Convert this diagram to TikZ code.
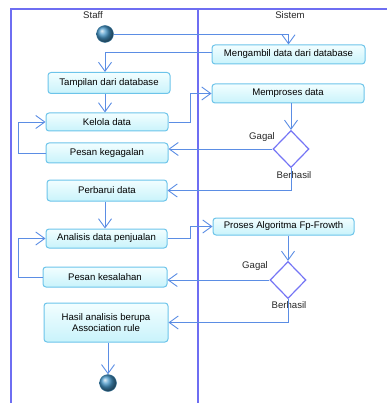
\documentclass[tikz,border=0pt]{standalone}
\usepackage{fontspec}
\setmainfont{Liberation Sans}
\usetikzlibrary{arrows.meta,shapes.geometric,calc}
\definecolor{frameblue}{HTML}{6E6EF2}
\definecolor{linkblue}{HTML}{5B8DE4}
\definecolor{boxborder}{HTML}{6CC4EA}
\definecolor{boxtop}{HTML}{F2FEFF}
\definecolor{boxbot}{HTML}{C9F3FB}
\definecolor{decblue}{HTML}{7575F5}
\definecolor{ballblue}{HTML}{4596C8}
\begin{document}
\begin{tikzpicture}[x=1pt,y=-1pt,
  font=\fontsize{9.6}{11}\selectfont,
  actbox/.style={draw=boxborder, line width=1pt, rounded corners=3pt, top color=boxtop, bottom color=boxbot, inner sep=0pt, align=center},
  decnode/.style={draw=decblue, line width=1.2pt, fill=white, diamond, minimum width=36pt, minimum height=37pt, inner sep=0pt},
  ballnode/.style={circle, ball color=ballblue, draw=ballblue!75!black, line width=0.4pt, minimum size=17pt, inner sep=0pt},
  flow/.style={draw=linkblue, line width=0.9pt, -{Straight Barb[length=9pt,width=13pt]}},
  frame/.style={draw=frameblue, line width=1.4pt},
  lbl/.style={inner sep=0pt, text=black!85}
]
\useasboundingbox (0,0) rectangle (387,403);
% frame and lanes
\draw[frame] (11,403) -- (11,9) -- (387,9);
\draw[frame] (198,9) -- (198,403);
\node[lbl] (staff) at (93,15) {Staff};
\node[lbl] (sistem) at (290,15) {Sistem};

% nodes
\node[ballnode] (init) at (105,34) {};
\node[actbox, minimum width=153pt, minimum height=19pt] (mengambil) at (288.5,54.5) {Mengambil data dari database};
\node[actbox, minimum width=122pt, minimum height=21pt] (tampilan) at (109,83) {Tampilan dari database};
\node[actbox, minimum width=122pt, minimum height=18pt] (kelola) at (107,122) {Kelola data};
\node[actbox, minimum width=152pt, minimum height=19pt] (memproses) at (288,93.5) {Memproses data};
\node[decnode] (d1) at (291,149) {};
\node[actbox, minimum width=122pt, minimum height=20pt] (kegagalan) at (107,153) {Pesan kegagalan};
\node[actbox, minimum width=120pt, minimum height=21pt] (perbarui) at (107,190.5) {Perbarui data};
\node[actbox, minimum width=121pt, minimum height=19pt] (analisis) at (106.5,238.5) {Analisis data penjualan};
\node[actbox, minimum width=141pt, minimum height=17pt] (proses) at (283.5,226.5) {Proses Algoritma Fp-Frowth};
\node[decnode] (d2) at (288,280) {};
\node[actbox, minimum width=124pt, minimum height=20pt] (kesalahan) at (105,277) {Pesan kesalahan};
\node[actbox, minimum width=124pt, minimum height=39pt] (hasil) at (106,322.5) {Hasil analisis berupa\\Association rule};
\node[ballnode] (final) at (108,383) {};

% labels
\node[lbl] (g1) at (262,137) {Gagal};
\node[lbl] (b1) at (294,175) {Berhasil};
\node[lbl] (g2) at (255,266) {Gagal};
\node[lbl] (b2) at (289,305) {Berhasil};

% connectors
\draw[flow] (init.east) -| (mengambil.north);
\draw[flow] ([yshift=2pt]mengambil.west) -| (init |- tampilan.north);
\draw[flow] (init |- tampilan.south) -- (init |- kelola.north);
\draw[flow] (kelola.east) -- ++(22,0) |- (memproses.west);
\draw[flow] (memproses.south -| d1) -- (d1.north);
\draw[flow] (d1.west) -- (d1.west -| kegagalan.east);
\draw[flow] (kegagalan.west) -- ++(-27,0) |- (kelola.west);
\draw[flow] (d1.south) |- (perbarui.east);
\draw[flow] (init |- perbarui.south) -- (init |- analisis.north);
\draw[flow] (analisis.east) -- ++(23,0) |- (proses.west);
\draw[flow] (proses.south -| d2) -- (d2.north);
\draw[flow] (d2.west) -- (d2.west -| kesalahan.east);
\draw[flow] (kesalahan.west) -- ++(-24,0) |- (analisis.west);
\draw[flow] (d2.south) |- (hasil.east);
\draw[flow] (hasil.south -| final) -- (final.north);
\end{tikzpicture}
\end{document}
